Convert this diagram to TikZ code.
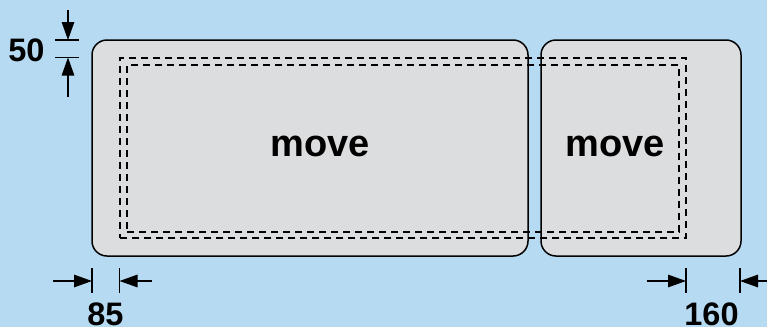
\documentclass[tikz,border=0pt]{standalone}
\usepackage{fontspec}
\setmainfont{Liberation Sans}
\usetikzlibrary{arrows.meta}
\definecolor{bgblue}{HTML}{B5DAF2}
\definecolor{boxgray}{HTML}{DCDDDF}
\tikzset{
  panel/.style={draw=black, fill=boxgray, line width=1.5pt, rounded corners=15pt, inner sep=0pt},
  dashrect/.style={draw=black, line width=1.3pt, dash pattern=on 7pt off 5pt, inner sep=0pt},
  bigtext/.style={font=\fontsize{38}{40}\selectfont\bfseries, inner sep=0pt},
  dimtext/.style={font=\fontsize{32.5}{34}\selectfont\bfseries, inner sep=0pt},
  tick/.style={line width=1.3pt},
  dimarrow/.style={line width=1.3pt, -{Triangle[length=18pt,width=12.5pt]}},
}
\begin{document}
\begin{tikzpicture}[x=1pt,y=-1pt]
\fill[bgblue] (0,0) rectangle (767,327);
\useasboundingbox (0,0) rectangle (767,327);
% panels
\node[panel, minimum width=436pt, minimum height=216pt] (left) at (310,148) {};
\node[panel, minimum width=200pt, minimum height=216pt] (right) at (641,148) {};
% dashed outlines
\node[dashrect, minimum width=566pt, minimum height=180pt] (outer) at (403,148) {};
\node[dashrect, minimum width=552pt, minimum height=167pt] (inner) at (403,148.5) {};
% labels
\node[bigtext] (mv1) at (320,146) {move};
\node[bigtext] (mv2) at (615,146) {move};
% dimension 50
\coordinate (t1a) at (55,40); \coordinate (t1b) at (79,40);
\coordinate (t2a) at (55,57.5); \coordinate (t2b) at (79,57.5);
\draw[tick] (t1a) -- (t1b);
\draw[tick] (t2a) -- (t2b);
\coordinate (a1s) at (68,10); \coordinate (a1e) at (68,40);
\coordinate (a2s) at (68,97); \coordinate (a2e) at (68,57.5);
\draw[dimarrow] (a1s) -- (a1e);
\draw[dimarrow] (a2s) -- (a2e);
\node[dimtext] (d50) at (26.5,50) {50};
% dimension 85
\coordinate (u1a) at (92,268); \coordinate (u1b) at (92,293);
\coordinate (u2a) at (119.5,268); \coordinate (u2b) at (119.5,293);
\draw[tick] (u1a) -- (u1b);
\draw[tick] (u2a) -- (u2b);
\coordinate (b1s) at (53,281); \coordinate (b1e) at (92,281);
\coordinate (b2s) at (152,281); \coordinate (b2e) at (119.5,281);
\draw[dimarrow] (b1s) -- (b1e);
\draw[dimarrow] (b2s) -- (b2e);
\node[dimtext] (d85) at (105.5,314.5) {85};
% dimension 160
\coordinate (v1a) at (686,268); \coordinate (v1b) at (686,293);
\coordinate (v2a) at (740,268); \coordinate (v2b) at (740,293);
\draw[tick] (v1a) -- (v1b);
\draw[tick] (v2a) -- (v2b);
\coordinate (c1s) at (647,281); \coordinate (c1e) at (686,281);
\coordinate (c2s) at (770,281); \coordinate (c2e) at (740,281);
\draw[dimarrow] (c1s) -- (c1e);
\draw[dimarrow] (c2s) -- (c2e);
\node[dimtext] (d160) at (711.5,314.5) {160};
\end{tikzpicture}
\end{document}
